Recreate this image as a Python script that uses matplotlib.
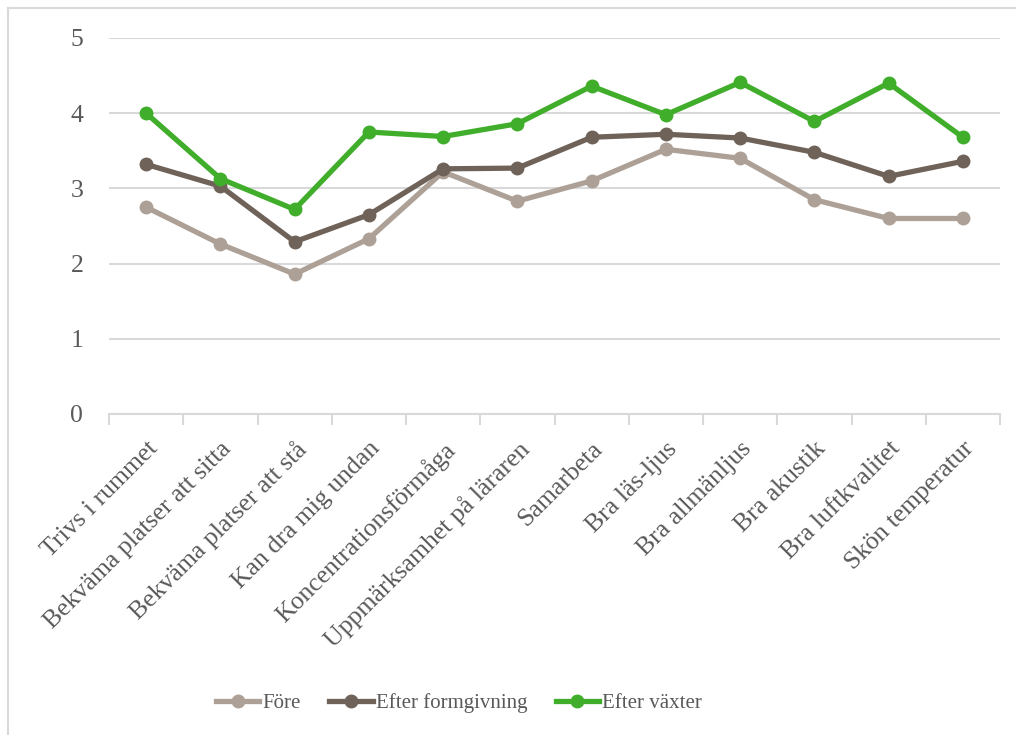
import matplotlib
matplotlib.use("Agg")
import matplotlib.pyplot as plt
from matplotlib.lines import Line2D

categories = ["Trivs i rummet", "Bekväma platser att sitta", "Bekväma platser att stå",
              "Kan dra mig undan", "Koncentrationsförmåga", "Uppmärksamhet på läraren",
              "Samarbeta", "Bra läs-ljus", "Bra allmänljus", "Bra akustik",
              "Bra luftkvalitet", "Skön temperatur"]
fore = [2.75, 2.26, 1.86, 2.33, 3.22, 2.83, 3.10, 3.52, 3.40, 2.85, 2.60, 2.60]
efter_form = [3.32, 3.03, 2.29, 2.65, 3.26, 3.27, 3.68, 3.72, 3.67, 3.48, 3.16, 3.36]
efter_vaxt = [4.00, 3.13, 2.72, 3.75, 3.69, 3.86, 4.36, 3.98, 4.41, 3.89, 4.40, 3.68]
series_names = ["Före", "Efter formgivning", "Efter växter"]
colors = ["#ADA197", "#6F6259", "#40AE2B"]
yticks = [0, 1, 2, 3, 4, 5]

plt.rcParams['font.family'] = ['Liberation Serif', 'DejaVu Serif']
text_color = "#595959"
grid_color = "#D9D9D9"
fs_ticks = 18.5
fs_legend = 15

fig = plt.figure(figsize=(10.16, 7.35), dpi=100)
ax = fig.add_axes([109/1016, 1-414/735, (1000-109)/1016, (414-38)/735])

x = list(range(len(categories)))
for vals, name, c in zip([fore, efter_form, efter_vaxt], series_names, colors):
    ax.plot(x, vals, color=c, lw=3.8, marker='o', ms=9, label=name, solid_capstyle='round')

ax.set_xlim(-0.5, len(categories) - 0.5)
ax.set_ylim(0, 5)
ax.set_yticks(yticks)
ax.set_yticklabels([str(t) for t in yticks], fontsize=fs_ticks, color=text_color)
ax.yaxis.grid(True, color=grid_color, lw=1.5)
ax.set_axisbelow(True)
ax.tick_params(axis='y', length=0, pad=18.5)
for s in ['left', 'right', 'top']:
    ax.spines[s].set_visible(False)
ax.spines['bottom'].set_color(grid_color)
ax.spines['bottom'].set_linewidth(1.5)

# category boundary ticks
ax.set_xticks([i - 0.5 for i in range(len(categories) + 1)])
ax.set_xticklabels([])
ax.tick_params(axis='x', length=8, width=1.5, color=grid_color)
ax.set_xticks(x, minor=True)
ax.set_xticklabels(categories, minor=True, rotation=45, ha='right', va='top',
                   rotation_mode='anchor', fontsize=fs_ticks, color=text_color)
ax.tick_params(axis='x', which='minor', length=0, pad=17)

handles = [Line2D([0], [0], color=c, lw=3.8, marker='o', ms=9) for c in colors]
fig.legend(handles, series_names, loc='center', bbox_to_anchor=(459/1016, 1-703/735),
           ncol=3, frameon=False, fontsize=fs_legend, labelcolor=text_color,
           handlelength=2.1, handletextpad=0.15, columnspacing=1.35)

# outer chart border
fig.add_artist(Line2D([8/1016, 8/1016], [0, 1-8/735], color=grid_color, lw=1.5,
                      transform=fig.transFigure))
fig.add_artist(Line2D([8/1016, 1], [1-8/735, 1-8/735], color=grid_color, lw=1.5,
                      transform=fig.transFigure))

fig.savefig("out.png", dpi=100, facecolor='white')
